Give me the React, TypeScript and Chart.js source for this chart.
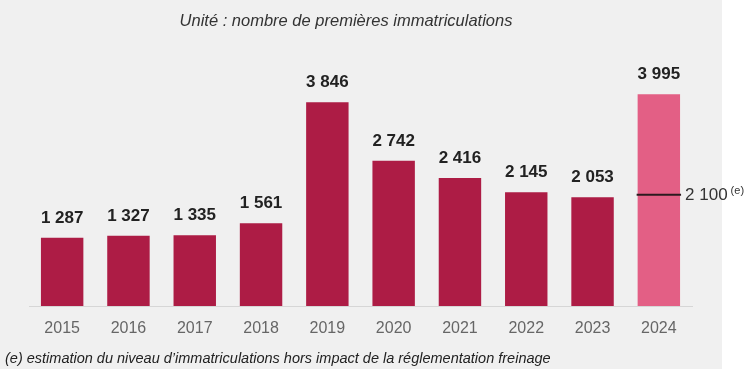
import React, { useEffect, useRef } from "react";
import { Chart, registerables } from "chart.js";

Chart.register(...registerables);

const categories = ["2015", "2016", "2017", "2018", "2019", "2020", "2021", "2022", "2023", "2024"];
const registrations = [1287, 1327, 1335, 1561, 3846, 2742, 2416, 2145, 2053, 3995];
const estimate2024 = 2100;
const titleText = "Unité : nombre de premières immatriculations";
const footnoteText = "(e) estimation du niveau d\u2019immatriculations hors impact de la réglementation freinage";

const CRIMSON = "#ad1c45";
const PINK = "#e35f85";
const FONT = "'Liberation Sans', Arial, sans-serif";

const fmt = (v: number) => String(v).replace(/\B(?=(\d{3})+(?!\d))/g, " ");

export default function App() {
  const ref = useRef<HTMLCanvasElement | null>(null);

  useEffect(() => {
    document.body.style.margin = "0";
    const canvas = ref.current!;
    const bgPlugin = {
      id: "bg",
      beforeDraw(chart: any) {
        const { ctx, width, height } = chart;
        ctx.save();
        ctx.fillStyle = "#ffffff";
        ctx.fillRect(0, 0, width, height);
        ctx.fillStyle = "#f0f0f0";
        ctx.fillRect(0, 0, 722, height);
        ctx.restore();
      },
    };
    const textPlugin = {
      id: "texts",
      afterDraw(chart: any) {
        const { ctx } = chart;
        const meta = chart.getDatasetMeta(0);
        const y = chart.scales.y;
        ctx.save();
        // title
        ctx.fillStyle = "#333333";
        ctx.font = `italic 16.5px ${FONT}`;
        ctx.textAlign = "center";
        ctx.textBaseline = "middle";
        ctx.fillText(titleText, 346, 21);
        // footnote
        ctx.fillStyle = "#222222";
        ctx.font = `italic 14.5px ${FONT}`;
        ctx.textAlign = "left";
        ctx.fillText(footnoteText, 5, 359);
        // data labels
        ctx.fillStyle = "#222222";
        ctx.font = `bold 17px ${FONT}`;
        ctx.textAlign = "center";
        ctx.textBaseline = "alphabetic";
        meta.data.forEach((bar: any, i: number) => {
          ctx.fillText(fmt(registrations[i]), bar.x, bar.y - 15);
        });
        // estimate line on last bar
        const last = meta.data[meta.data.length - 1];
        const half = last.width / 2;
        const ly = y.getPixelForValue(estimate2024);
        ctx.strokeStyle = "#2b1a1f";
        ctx.lineWidth = 2;
        ctx.beginPath();
        ctx.moveTo(last.x - half - 1, ly);
        ctx.lineTo(last.x + half + 1, ly);
        ctx.stroke();
        ctx.fillStyle = "#333333";
        ctx.font = `17px ${FONT}`;
        ctx.textAlign = "left";
        ctx.textBaseline = "middle";
        const lx = last.x + half + 5;
        const t = fmt(estimate2024);
        ctx.fillText(t, lx, ly + 1);
        const w = ctx.measureText(t).width;
        ctx.font = `11px ${FONT}`;
        ctx.fillText("(e)", lx + w + 3, ly - 4);
        ctx.restore();
      },
    };

    const chart = new Chart(canvas, {
      type: "bar",
      data: {
        labels: categories,
        datasets: [
          {
            data: registrations,
            backgroundColor: registrations.map((_, i) => (i === registrations.length - 1 ? PINK : CRIMSON)),
            categoryPercentage: 1,
            barPercentage: 0.64,
          },
        ],
      },
      options: {
        animation: false,
        responsive: false,
        maintainAspectRatio: false,
        layout: { padding: { left: 29, right: 55, top: 67.5, bottom: 0 } },
        plugins: { legend: { display: false }, tooltip: { enabled: false }, title: { display: false } },
        scales: {
          x: {
            grid: { display: false, drawTicks: false },
            border: { display: true, color: "#d6d6d6", width: 1 },
            ticks: { color: "#666666", font: { family: FONT, size: 16 }, padding: 13 },
            afterFit: (s: any) => {
              s.height = 63;
            },
          },
          y: { display: false, min: 0, max: 4500 },
        },
      },
      plugins: [bgPlugin, textPlugin],
    });
    return () => chart.destroy();
  }, []);

  return (
    <div style={{ width: 747, height: 369 }}>
      <canvas ref={ref} width={747} height={369} style={{ display: "block", width: 747, height: 369 }} />
    </div>
  );
}
